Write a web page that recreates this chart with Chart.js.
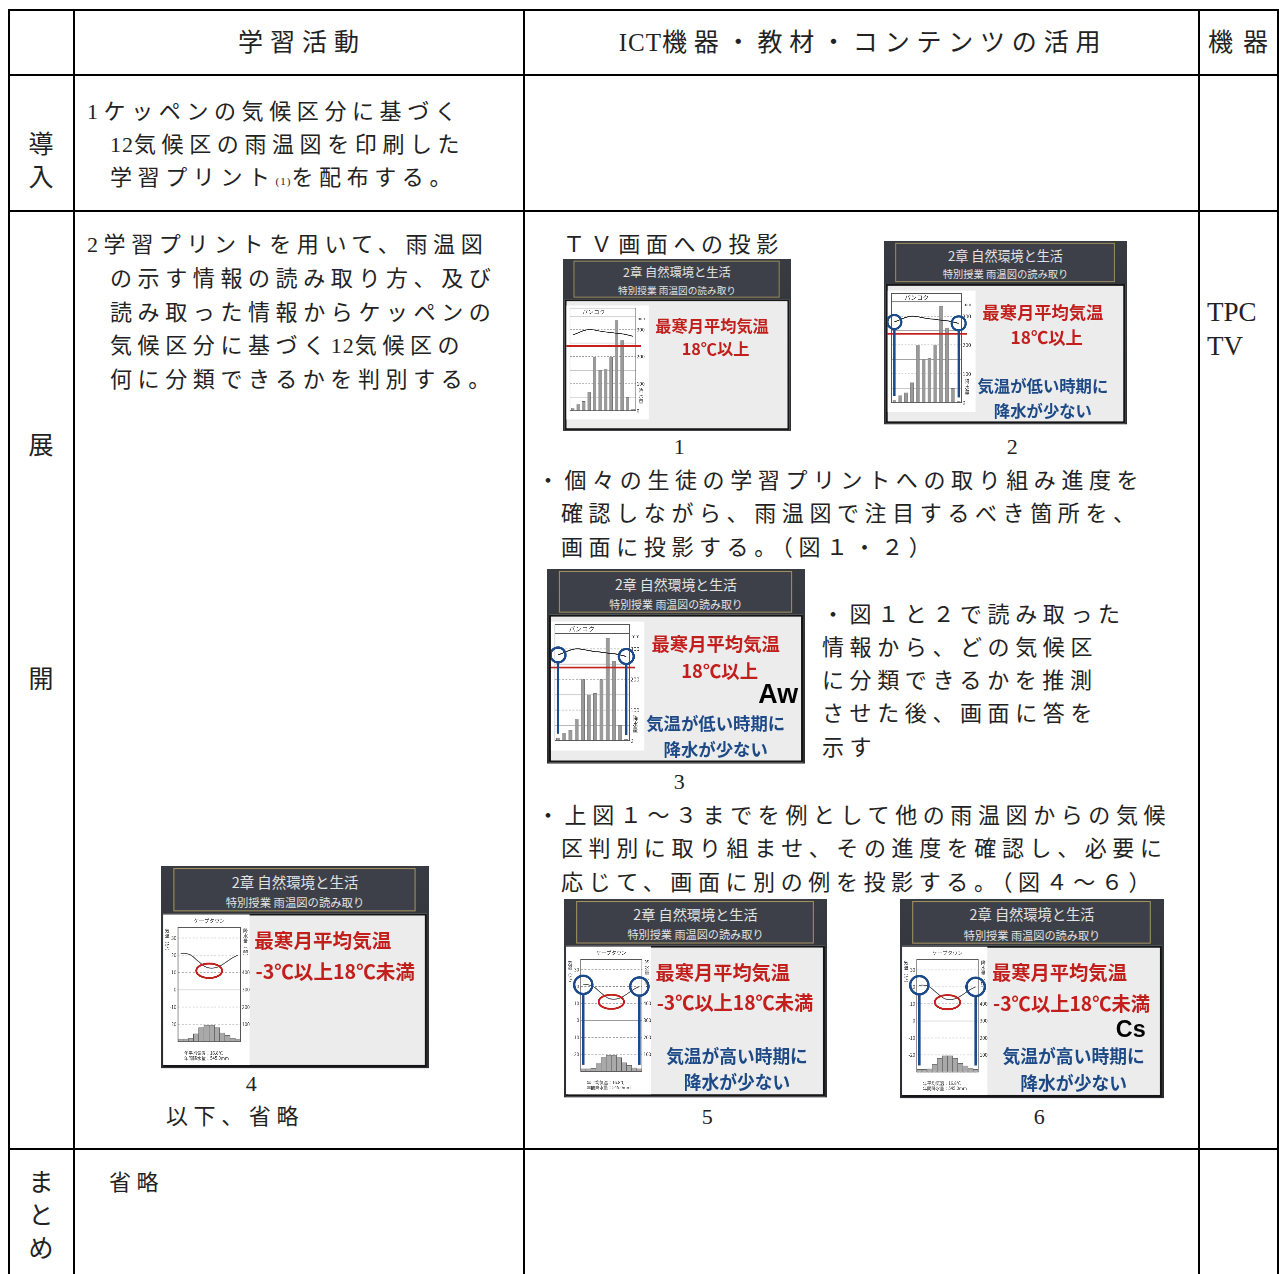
<!DOCTYPE html>
<html lang="ja">
<head>
<meta charset="utf-8">
<title>学習活動とICT機器の活用</title>
<script src="https://cdn.jsdelivr.net/npm/chart.js@4.4.1/dist/chart.umd.min.js"></script>
<style>
  html, body { margin: 0; padding: 0; background: #fff; }
  body { position: relative; width: 1279px; height: 1274px; overflow: hidden;
         font-family: "Liberation Serif", "Noto Sans CJK JP", serif; color: #222; }
  .hl { position: absolute; height: 2px; background: #000; }
  .vl { position: absolute; width: 2px; background: #000; }
  .t { position: absolute; white-space: nowrap; font-size: 22px; line-height: 30px; letter-spacing: 5.6px; }
  .hd { font-size: 25px; }
  .small { font-size: 11px; letter-spacing: 1px; }
  .tight { letter-spacing: 1px; }
  .slide { position: absolute; width: 260px; height: 196px; transform-origin: 0 0; overflow: hidden;
           background: linear-gradient(180deg, #383b42, #2b2d32); }
  .frame { position: absolute; left: 12px; top: 2px; width: 233px; height: 40px;
           border: 1.5px solid #a4925e; background: #3d4048; }
  .ttl { position: absolute; left: 0; width: 260px; text-align: center; color: #e2e2e2;
         white-space: nowrap; font-family: "Noto Sans CJK JP", sans-serif; }
  .panel { position: absolute; left: 2px; top: 46px; width: 252px; height: 145px;
           background: #ececec; border: 2px solid #151515; }
  .slide canvas { position: absolute; }
  .st { position: absolute; white-space: nowrap; font-family: "Noto Sans CJK JP", sans-serif;
        font-weight: bold; line-height: 22px; }
  .red { color: #c21f1c; font-size: 18.5px; }
  .cape .red { font-size: 19px; }
  .blue { color: #1d4a86; font-size: 17.5px; }
  .ans { color: #000; font-family: "Liberation Sans", sans-serif; font-size: 27px; line-height: 18px; }
  .cape .ans { font-size: 23px; }
</style>
</head>
<body>
<script>
// --- 雨温図のデータ ---
const bangkokMonths = ['1', '', '', '4', '', '', '7', '', '', '10', '', '月'];
const bangkokRain = [10, 25, 35, 70, 200, 150, 155, 200, 335, 260, 50, 5];
const bangkokTemp = [28.0, 28.8, 29.6, 30.0, 29.8, 29.4, 29.1, 28.9, 28.6, 28.4, 28.0, 27.5];
const bangkokRainTicks = [0, 100, 200, 300];
const bangkokRedLine = 23.9;

const capeMonths = ['1月', '', '', '', '', '6月', '', '', '', '', '', '12月'];
const capeRain = [15, 15, 18, 45, 80, 95, 95, 80, 50, 35, 20, 15];
const capeTemp = [21, 21, 20, 17.5, 15, 13, 12.5, 13, 14.5, 16.5, 18.5, 20];
const capeTempTicks = [30, 20, 10, 0, -10, -20];
const capeRainTicks = [100, 200, 300, 400];
const capeColdMark = 11;

Chart.defaults.font.family = '"Noto Sans CJK JP", sans-serif';

// --- 表の罫線 ---
function hline(x, y, w) {
    const d = document.createElement('div');
    d.className = 'hl';
    d.style.left = x + 'px'; d.style.top = y + 'px'; d.style.width = w + 'px';
    document.body.appendChild(d);
}
function vline(x, y, h) {
    const d = document.createElement('div');
    d.className = 'vl';
    d.style.left = x + 'px'; d.style.top = y + 'px'; d.style.height = h + 'px';
    document.body.appendChild(d);
}
hline(8, 9, 1271);
hline(8, 74, 1271);
hline(8, 210, 1271);
hline(8, 1148, 1271);
[8, 73, 523, 1198, 1277].forEach(x => vline(x, 9, 1265));

// --- テキスト ---
function txt(left, cy, html, cls, center) {
    const d = document.createElement('div');
    d.className = 't ' + (cls || '');
    d.innerHTML = html;
    d.style.top = (cy - 15) + 'px';
    if (center) {
        d.style.left = (left - 300) + 'px';
        d.style.width = '600px';
        d.style.textAlign = 'center';
    } else {
        d.style.left = left + 'px';
    }
    document.body.appendChild(d);
    return d;
}

// 見出し
txt(302, 43, '学習活動', 'hd', true).style.letterSpacing = '7px';
txt(863, 43, '<span class="tight">ICT</span>機器・教材・コンテンツの活用', 'hd', true).style.letterSpacing = '6.8px';
txt(1243, 43, '機器', 'hd', true).style.letterSpacing = '10px';

// 左の段階名
[['導', 145], ['入', 178], ['展', 446], ['開', 680], ['ま', 1183], ['と', 1216], ['め', 1249]]
    .forEach(([c, y]) => txt(41, y, c, 'hd', true).style.letterSpacing = '0');

// 学習活動
txt(87, 112, '1ケッペンの気候区分に基づく');
txt(110, 145, '<span class="tight">12</span>気候区の雨温図を印刷した');
txt(110, 178, '学習プリント<span class="small">(1)</span>を配布する。');
txt(87, 245, '2学習プリントを用いて、雨温図');
txt(110, 279, 'の示す情報の読み取り方、及び');
txt(110, 313, '読み取った情報からケッペンの');
txt(110, 346, '気候区分に基づく<span class="tight">12</span>気候区の');
txt(110, 380, '何に分類できるかを判別する。');
txt(254, 1084, '4', '', true);
txt(166, 1117, '以下、省略');
txt(109, 1183, '省略');

// ICT機器・教材・コンテンツの活用
txt(563, 245, 'ＴＶ画面への投影');
txt(682, 447, '1', '', true);
txt(1015, 447, '2', '', true);
txt(537, 481, '・個々の生徒の学習プリントへの取り組み進度を');
txt(561, 514, '確認しながら、雨温図で注目するべき箇所を、');
txt(561, 548, '画面に投影する。（図１・２）');
txt(822, 615, '・図１と２で読み取った');
txt(822, 648, '情報から、どの気候区');
txt(822, 681, 'に分類できるかを推測');
txt(822, 714, 'させた後、画面に答を');
txt(822, 748, '示す');
txt(682, 782, '3', '', true);
txt(537, 816, '・上図１～３までを例として他の雨温図からの気候');
txt(561, 849, '区判別に取り組ませ、その進度を確認し、必要に');
txt(561, 883, '応じて、画面に別の例を投影する。（図４～６）');
txt(710, 1117, '5', '', true);
txt(1042, 1117, '6', '', true);

// 機器
const tpc = txt(1207, 312, 'TPC');
const tv = txt(1207, 346, 'TV');
[tpc, tv].forEach(d => { d.style.fontSize = '27px'; d.style.letterSpacing = '0'; });

// --- 雨温図の装飾プラグイン ---
function vtext(ctx, str, x, y, step) {
    [...str].forEach((c, i) => ctx.fillText(c, x, y + i * step));
}

const decoPlugin = {
    id: 'deco',
    beforeDraw(chart) {
        const { ctx, width, height } = chart;
        ctx.save();
        ctx.fillStyle = '#fff';
        ctx.fillRect(0, 0, width, height);
        ctx.restore();
    },
    afterDraw(chart, args, o) {
        const { ctx, chartArea: a, scales } = chart;
        const x = scales.x, yT = scales.yT, yR = scales.yR;
        const temp = chart.data.datasets[0].data;
        const rain = chart.data.datasets[1].data;
        ctx.save();
        ctx.strokeStyle = '#555';
        ctx.fillStyle = '#333';
        ctx.lineWidth = 0.7;
        ctx.textAlign = 'center';
        ctx.textBaseline = 'middle';

        if (o.city === 'bangkok') {
            // 枠と地名
            ctx.strokeRect(a.left, a.top - 9, a.right - a.left, a.bottom - a.top + 9);
            ctx.beginPath(); ctx.moveTo(a.left, a.top); ctx.lineTo(a.right, a.top); ctx.stroke();
            ctx.font = '6.5px "Noto Sans CJK JP"';
            ctx.fillText('バンコク', a.left + 27, a.top - 4.5);
            ctx.font = '4.5px "Noto Sans CJK JP"';
            ctx.textAlign = 'left';
            ctx.fillText('mm', a.right + 2, a.top + 3);
            ctx.textAlign = 'center';
            ctx.font = '5.5px "Noto Sans CJK JP"';
            vtext(ctx, '降水量', a.right + 6, yR.getPixelForValue(100) + 8, 6);
        } else {
            ctx.strokeRect(a.left, a.top, a.right - a.left, a.bottom - a.top);
            ctx.font = '5px "Noto Sans CJK JP"';
            ctx.fillText('ケープタウン', (a.left + a.right) / 2, a.top - 6.5);
            ctx.font = '4.6px "Noto Sans CJK JP"';
            vtext(ctx, '気温︵℃︶', 4, a.top + 3, 5);
            vtext(ctx, '降水量︵㎜︶', a.right + 5, a.top + 3, 5);
            ctx.textAlign = 'left';
            ctx.font = '4.2px "Noto Sans CJK JP"';
            ctx.fillText('年平均気温：16.8℃', a.left + 6, a.bottom + 11);
            ctx.fillText('年間降水量：545.0mm', a.left + 6, a.bottom + 16);
        }

        // 18℃の線
        if (o.redLine !== undefined) {
            const y = yT.getPixelForValue(o.redLine);
            ctx.strokeStyle = '#c4211d';
            ctx.lineWidth = 1.8;
            ctx.beginPath(); ctx.moveTo(0, y); ctx.lineTo(a.right + 6, y); ctx.stroke();
        }
        // 最寒月の楕円
        if (o.ellipse !== undefined) {
            const cx = (x.getPixelForValue(5) + x.getPixelForValue(6)) / 2;
            const cy = yT.getPixelForValue(o.ellipse);
            ctx.strokeStyle = '#c4211d';
            ctx.lineWidth = 1.9;
            ctx.beginPath(); ctx.ellipse(cx, cy, 12.5, 7, 0, 0, Math.PI * 2); ctx.stroke();
        }
        // 1月と12月の丸と縦線
        if (o.circles) {
            ctx.strokeStyle = '#1b4b8a';
            ctx.lineWidth = 2.4;
            [0, temp.length - 1].forEach(i => {
                const cx = x.getPixelForValue(i);
                const cy = yT.getPixelForValue(temp[i]);
                ctx.beginPath(); ctx.arc(cx, cy, o.r, 0, Math.PI * 2); ctx.stroke();
                ctx.beginPath();
                ctx.moveTo(cx, cy + o.r);
                ctx.lineTo(cx, yR.getPixelForValue(rain[i]) - 4);
                ctx.stroke();
            });
        }
        ctx.restore();
    }
};

function bangkokChart(canvas, deco) {
    return new Chart(canvas, {
        data: {
            labels: bangkokMonths,
            datasets: [
                { type: 'line', data: bangkokTemp, yAxisID: 'yT', borderColor: '#2a2a2a', borderWidth: 1,
                  pointRadius: 0, tension: 0.35, order: 0 },
                { type: 'bar', data: bangkokRain, yAxisID: 'yR', backgroundColor: '#9a9a9a',
                  borderColor: '#6a6a6a', borderWidth: 0.5, barPercentage: 0.62, categoryPercentage: 1, order: 1 }
            ]
        },
        options: {
            responsive: false, animation: false, devicePixelRatio: 3,
            layout: { padding: { top: 12, left: 4, right: 1, bottom: 0 } },
            plugins: { legend: { display: false }, tooltip: { enabled: false }, deco: deco },
            scales: {
                x: {
                    grid: { display: false }, border: { display: false },
                    ticks: { font: { size: 6 }, color: '#333', maxRotation: 0, autoSkip: false, padding: 1 },
                    afterFit: s => { s.height = 10; }
                },
                yT: { display: false, min: 0, max: 35 },
                yR: {
                    position: 'right', min: 0, max: 350,
                    grid: { color: '#9a9a9a', lineWidth: 0.6, drawTicks: false },
                    border: { display: false, dash: c => (c.tick && c.tick.value % 100 === 0 ? [2, 1.5] : []) },
                    ticks: { stepSize: 50, font: { size: 5.5 }, color: '#333', padding: 1,
                             callback: v => (bangkokRainTicks.includes(v) ? String(v) : '') },
                    afterFit: s => { s.width = 14; }
                }
            }
        },
        plugins: [decoPlugin]
    });
}

function capeChart(canvas, deco) {
    return new Chart(canvas, {
        data: {
            labels: capeMonths,
            datasets: [
                { type: 'line', data: capeTemp, yAxisID: 'yT', borderColor: '#555', borderWidth: 0.9,
                  pointRadius: 0, tension: 0.4, order: 0 },
                { type: 'bar', data: capeRain, yAxisID: 'yR', backgroundColor: '#a9a9a9',
                  borderColor: '#555', borderWidth: 0.5, barPercentage: 1, categoryPercentage: 1, order: 1 }
            ]
        },
        options: {
            responsive: false, animation: false, devicePixelRatio: 3,
            layout: { padding: { top: 12.7, left: 1.5, right: 0, bottom: 14.6 } },
            plugins: { legend: { display: false }, tooltip: { enabled: false }, deco: deco },
            scales: {
                x: {
                    grid: { display: false }, border: { display: false },
                    ticks: { font: { size: 4.6 }, color: '#333', maxRotation: 0, autoSkip: false, padding: 1 },
                    afterFit: s => { s.height = 8; }
                },
                yT: {
                    position: 'left', min: -30, max: 36,
                    grid: { color: '#8a8a8a', lineWidth: 0.5, drawTicks: false },
                    border: { display: false, dash: c => (c.tick && c.tick.value !== 0 ? [2, 1.5] : []) },
                    ticks: { stepSize: 10, includeBounds: false, font: { size: 4.6 }, color: '#333', padding: 1.5,
                             callback: v => (capeTempTicks.includes(v) ? String(v) : '') },
                    afterFit: s => { s.width = 13; }
                },
                yR: {
                    position: 'right', min: 0, max: 660,
                    grid: { drawOnChartArea: false, drawTicks: false }, border: { display: false },
                    ticks: { stepSize: 100, includeBounds: false, font: { size: 4.6 }, color: '#333', padding: 1.5,
                             callback: v => (capeRainTicks.includes(v) ? String(v) : '') },
                    afterFit: s => { s.width = 9; }
                }
            }
        },
        plugins: [decoPlugin]
    });
}

// --- スライド ---
const slideTexts = {
    bangkok: {
        red: [['最寒月平均気温', 170, 75], ['18℃以上', 174, 102]],
        blue: [['気温が低い時期に', 170, 155], ['降水が少ない', 170, 181]],
        ans: ['Aw', 253, 126]
    },
    cape: {
        red: [['最寒月平均気温', 157, 72], ['-3℃以上18℃未満', 169, 102]],
        blue: [['気温が高い時期に', 171, 155], ['降水が少ない', 171, 181]],
        ans: ['Cs', 242, 128]
    }
};

function stText(el, str, cx, cy, cls) {
    const d = document.createElement('div');
    d.className = 'st ' + cls;
    d.textContent = str;
    d.style.left = (cx - 100) + 'px';
    d.style.width = '200px';
    d.style.textAlign = 'center';
    d.style.top = (cy - 11) + 'px';
    el.appendChild(d);
}

function addSlide(cfg) {
    const el = document.createElement('div');
    el.className = 'slide ' + cfg.city;
    el.style.left = cfg.x + 'px';
    el.style.top = cfg.y + 'px';
    el.style.transform = 'scale(' + (cfg.w / 260) + ')';
    el.innerHTML =
        '<div class="frame"></div>' +
        '<div class="ttl" style="top:5px;font-size:14px;line-height:20px">2章 自然環境と生活</div>' +
        '<div class="ttl" style="top:27px;font-size:11px;line-height:16px">特別授業 雨温図の読み取り</div>' +
        '<div class="panel"></div>';
    document.body.appendChild(el);

    const cv = document.createElement('canvas');
    if (cfg.city === 'bangkok') {
        cv.width = 94; cv.height = 130;
        cv.style.left = '4px'; cv.style.top = '53px';
    } else {
        cv.width = 84; cv.height = 146;
        cv.style.left = '2px'; cv.style.top = '47px';
    }
    el.appendChild(cv);

    const tx = slideTexts[cfg.city];
    tx.red.forEach(([s, cx, cy]) => stText(el, s, cx, cy, 'red'));
    if (cfg.blue) tx.blue.forEach(([s, cx, cy]) => stText(el, s, cx, cy, 'blue'));
    if (cfg.answer) {
        const a = document.createElement('div');
        a.className = 'st ans';
        a.textContent = tx.ans[0];
        a.style.right = (260 - tx.ans[1]) + 'px';
        a.style.top = (tx.ans[2] - 9) + 'px';
        el.appendChild(a);
    }

    if (cfg.city === 'bangkok') {
        bangkokChart(cv, { city: 'bangkok', redLine: bangkokRedLine, circles: cfg.blue, r: 7.5 });
    } else {
        capeChart(cv, { city: 'cape', ellipse: capeColdMark, circles: cfg.blue, r: 9 });
    }
}

[
    { x: 563, y: 259, w: 228, city: 'bangkok', blue: false, answer: false },
    { x: 884, y: 241, w: 243, city: 'bangkok', blue: true, answer: false },
    { x: 547, y: 569, w: 258, city: 'bangkok', blue: true, answer: true },
    { x: 161, y: 866, w: 268, city: 'cape', blue: false, answer: false },
    { x: 564, y: 899, w: 263, city: 'cape', blue: true, answer: false },
    { x: 900, y: 899, w: 264, city: 'cape', blue: true, answer: true }
].forEach(addSlide);
</script>
</body>
</html>
